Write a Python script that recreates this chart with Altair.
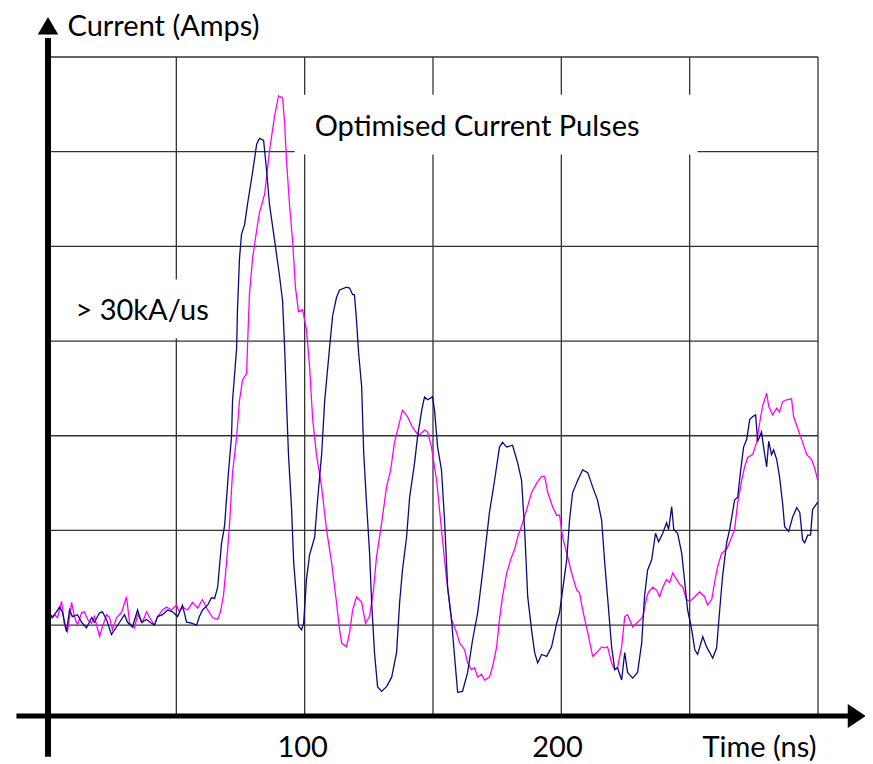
import altair as alt
import pandas as pd

# ---- data (time in ns, current in grid divisions) ----
navy_t = [0.6, 1.8, 4.5, 5.7, 7.2, 8.4, 9.5, 11.5, 13.1, 15.0, 17.0, 18.1, 20.1, 21.2, 22.8, 24.7, 26.7, 27.9,
          29.8, 31.0, 32.9, 34.9, 36.4, 38.4, 40.3, 41.5, 42.7, 44.6, 46.6, 48.5, 50.5, 52.4, 54.0, 55.9, 57.9,
          59.0, 60.2, 62.2, 63.7, 64.9, 66.1, 67.6, 68.8, 70.3, 71.5, 71.9, 73.5, 73.8, 74.6, 75.4, 76.6, 77.7,
          79.7, 81.3, 82.4, 84.0, 85.1, 86.3, 88.3, 90.2, 91.4, 92.2, 92.9, 93.7, 94.9, 95.7, 96.8, 97.6, 98.8,
          99.6, 100.7, 101.9, 103.9, 105.0, 106.6, 107.8, 109.7, 110.9, 112.4, 113.6, 116.3, 117.5, 118.7, 119.4,
          120.2, 121.0, 122.2, 123.0, 124.1, 125.3, 126.1, 127.2, 128.4, 130.0, 131.9, 133.9, 135.8, 137.0, 138.1,
          139.7, 140.9, 142.8, 144.0, 145.6, 146.7, 147.9, 149.8, 150.6, 151.8, 153.3, 154.5, 155.7, 157.2, 158.4,
          159.6, 161.5, 163.5, 165.4, 167.4, 169.3, 172.0, 174.0, 175.9, 177.1, 178.7, 181.0, 183.0, 184.5, 185.7,
          186.9, 188.4, 189.6, 190.8, 192.3, 194.3, 196.2, 198.2, 199.3, 200.5, 202.1, 203.2, 204.4, 206.4, 208.3,
          210.3, 212.2, 214.1, 215.7, 216.9, 218.0, 219.6, 220.8, 221.9, 223.5, 224.7, 225.8, 227.8, 229.7, 231.3,
          232.4, 233.6, 235.2, 236.7, 237.9, 239.5, 241.0, 241.8, 243.0, 243.8, 245.3, 246.9, 248.1, 249.2, 250.8,
          252.0, 253.1, 255.1, 256.6, 259.0, 260.5, 261.7, 262.8, 264.4, 265.6, 267.5, 268.7, 269.9, 271.0, 272.2,
          273.4, 274.5, 275.7, 276.5, 278.0, 278.8, 280.0, 280.8, 281.9, 282.7, 283.9, 285.0, 286.2, 287.0, 288.6,
          290.1, 291.7, 292.9, 294.0, 294.8, 296.0, 297.1, 297.9, 299.9]
navy_i = [1.13, 1.08, 1.19, 1.13, 0.93, 1.16, 1.09, 1.11, 1.03, 0.97, 1.08, 1.03, 1.13, 1.14, 1.06, 0.90, 0.98, 1.03,
          1.11, 1.03, 0.98, 1.16, 1.03, 1.06, 1.02, 1.00, 1.09, 1.11, 1.16, 1.14, 1.09, 1.21, 1.03, 1.02, 1.00,
          1.09, 1.16, 1.21, 1.29, 1.28, 1.40, 1.86, 2.05, 2.61, 2.99, 3.37, 3.93, 4.31, 4.87, 5.13, 5.23, 5.44,
          5.78, 6.08, 6.14, 6.12, 5.82, 5.44, 5.06, 4.69, 4.42, 3.93, 3.37, 2.80, 2.23, 1.67, 1.29, 0.99, 0.95,
          1.02, 1.48, 1.74, 1.93, 2.31, 2.80, 3.37, 3.93, 4.27, 4.46, 4.54, 4.57, 4.56, 4.49, 4.49,
          4.22, 3.88, 3.52, 2.82, 2.29, 1.76, 1.24, 0.71, 0.35, 0.30, 0.35, 0.45, 0.71, 1.24, 1.58,
          1.93, 2.35, 2.71, 2.99, 3.27, 3.41, 3.38, 3.41, 3.27, 2.88, 2.64, 2.11, 1.40, 1.06, 0.67,
          0.29, 0.30, 0.50, 0.84, 1.13, 1.55, 2.19, 2.53, 2.88, 2.93, 2.88, 2.90, 2.71, 2.53, 2.01,
          1.30, 0.95, 0.71, 0.60, 0.69, 0.67, 0.77, 1.02, 1.13, 1.37, 1.69, 2.11, 2.40, 2.53, 2.64,
          2.61, 2.46, 2.32, 2.11, 1.66, 1.30, 0.77, 0.53, 0.55, 0.42, 0.71, 0.50, 0.44, 0.50, 0.81,
          1.30, 1.58, 1.69, 1.97, 1.88, 1.97, 2.08, 2.01, 2.25, 2.01, 1.97, 1.76, 1.45, 1.16, 0.95,
          0.74, 0.69, 0.88, 0.77, 0.65, 0.76, 1.16, 1.51, 1.87, 2.01, 2.32, 2.35, 2.64, 2.88, 2.96,
          3.17, 3.20, 3.22, 2.94, 3.04, 2.88, 2.67, 2.94, 2.80, 2.85, 2.75, 2.57, 2.29, 2.04, 1.99,
          2.14, 2.24, 2.19, 1.90, 1.87, 1.95, 1.95, 2.22, 2.30]

mag_t = [0.6, 2.5, 3.7, 5.3, 6.4, 7.6, 9.2, 10.3, 11.5, 13.1, 14.2, 15.4, 17.0, 18.1, 20.1, 21.2, 22.8, 24.0, 25.1,
         26.7, 28.6, 30.6, 31.8, 33.7, 34.9, 36.8, 38.4, 39.6, 41.5, 42.7, 44.6, 46.2, 48.1, 50.1, 51.2, 52.4,
         54.4, 56.3, 58.3, 60.2, 62.2, 64.1, 66.1, 67.2, 68.4, 69.6, 70.7, 71.9, 73.5, 74.6, 75.8, 77.4, 77.7,
         78.5, 79.7, 81.3, 82.4, 84.4, 86.3, 88.3, 89.8, 91.4, 92.2, 92.9, 94.1, 95.3, 96.4, 97.6, 99.2, 100.7,
         101.9, 103.1, 104.6, 106.6, 108.5, 110.5, 112.4, 113.6, 114.4, 116.3, 117.5, 118.7, 120.2, 122.2, 123.7,
         125.3, 126.8, 128.0, 130.0, 131.9, 133.5, 135.0, 136.2, 138.1, 140.1, 142.0, 143.6, 144.8, 146.7, 147.9,
         149.4, 151.4, 153.3, 155.3, 157.2, 159.2, 160.4, 162.3, 163.5, 165.0, 166.2, 167.4, 168.9, 170.1, 172.0,
         173.2, 174.8, 175.9, 177.1, 178.7, 180.6, 181.8, 183.0, 184.9, 186.5, 188.4, 190.4, 192.3, 193.5, 194.7,
         196.6, 198.2, 199.3, 200.5, 202.1, 204.0, 206.0, 207.1, 208.3, 210.3, 212.2, 213.8, 215.7, 216.9, 218.0,
         219.6, 220.8, 221.9, 223.5, 224.7, 225.8, 227.8, 229.7, 231.7, 233.3, 234.0, 235.6, 237.1, 238.3, 239.5,
         241.0, 242.2, 243.4, 245.0, 246.1, 247.3, 248.8, 250.0, 252.0, 253.9, 255.8, 257.0, 258.6, 259.7, 260.9,
         262.5, 264.4, 266.4, 267.5, 268.7, 270.3, 271.4, 272.6, 274.5, 276.1, 277.3, 278.4, 280.0, 280.8, 282.3,
         283.9, 285.0, 286.2, 287.8, 289.7, 290.5, 292.1, 294.0, 295.6, 297.5, 298.7, 299.9]
mag_i = [1.06, 1.11, 1.08, 1.25, 1.00, 0.93, 1.24, 1.09, 1.00, 1.13, 1.14, 1.06, 1.02, 1.09, 0.88, 0.98, 1.11, 1.08, 0.95,
         1.08, 1.13, 1.30, 1.02, 0.97, 1.11, 1.03, 1.14, 1.08, 1.00, 1.09, 1.16, 1.19, 1.16, 1.21, 1.14, 1.19,
         1.16, 1.24, 1.18, 1.27, 1.16, 1.08, 1.06, 1.14, 1.32, 1.67, 2.05, 2.61, 2.99, 3.37, 3.59, 3.66, 3.93,
         4.50, 4.87, 5.17, 5.36, 5.55, 6.01, 6.38, 6.59, 6.57, 6.30, 5.92, 5.44, 5.06, 4.57, 4.31, 4.33, 4.12,
         3.74, 3.18, 2.80, 2.46, 2.01, 1.66, 1.24, 0.95, 0.81, 0.77, 0.92, 1.16, 1.30, 1.24, 1.02,
         1.09, 1.37, 1.72, 2.08, 2.46, 2.64, 2.93, 3.06, 3.27, 3.20, 3.09, 3.03, 3.01, 3.06, 3.04,
         2.88, 2.53, 2.01, 1.48, 1.06, 0.92, 0.81, 0.74, 0.60, 0.53, 0.55, 0.45, 0.48, 0.42, 0.45,
         0.56, 0.77, 1.06, 1.30, 1.55, 1.72, 1.80, 1.93, 2.08, 2.22, 2.40, 2.50, 2.57, 2.57, 2.40,
         2.25, 2.16, 2.16, 1.93, 1.76, 1.55, 1.37, 1.34, 1.16, 0.92, 0.67, 0.71, 0.77, 0.76, 0.77,
         0.60, 0.53, 0.55, 0.77, 1.09, 1.11, 0.98, 1.03, 1.08, 1.30, 1.35, 1.40, 1.37, 1.30, 1.40,
         1.48, 1.45, 1.55, 1.48, 1.43, 1.40, 1.27, 1.25, 1.30, 1.35, 1.30, 1.21, 1.27, 1.45, 1.62,
         1.76, 1.80, 1.93, 2.01, 2.29, 2.53, 2.67, 2.77, 2.80, 2.93, 3.14, 3.31, 3.45, 3.31, 3.22,
         3.29, 3.25, 3.36, 3.38, 3.39, 3.20, 3.08, 2.93, 2.80, 2.75, 2.66, 2.53]

grid_t = [50, 100, 150, 200, 250, 300]
grid_i = [1, 2, 3, 4, 5, 6, 7]
tick_labels = ["100", "200"]
tick_pos = [99.2, 198.5]

NAVY = "#0a0a80"
MAGENTA = "#ff00ff"
FONT = "Lato"
FS = 29

xs = alt.Scale(domain=[0, 300], nice=False, zero=False)
ys = alt.Scale(domain=[0.04, 7], nice=False, zero=False)

lines_df = pd.concat([
    pd.DataFrame({"t": mag_t, "i": mag_i, "s": "magenta"}),
    pd.DataFrame({"t": navy_t, "i": navy_i, "s": "navy"}),
])

vgrid = alt.Chart(pd.DataFrame({"t": grid_t})).mark_rule(color="#333333", strokeWidth=1.3).encode(
    x=alt.X("t:Q", scale=xs, axis=None))
hgrid = alt.Chart(pd.DataFrame({"i": grid_i})).mark_rule(color="#333333", strokeWidth=1.3).encode(
    y=alt.Y("i:Q", scale=ys, axis=None))

boxes_df = pd.DataFrame({"t0": [96.1, 2.5], "t1": [253.1, 72.7], "i0": [5.97, 4.03], "i1": [6.60, 4.65]})
boxes = alt.Chart(boxes_df).mark_rect(color="white").encode(
    x=alt.X("t0:Q", scale=xs, axis=None), x2="t1:Q",
    y=alt.Y("i0:Q", scale=ys, axis=None), y2="i1:Q")

lines = alt.Chart(lines_df).mark_line(strokeWidth=1.3).encode(
    x=alt.X("t:Q", scale=xs, axis=None),
    y=alt.Y("i:Q", scale=ys, axis=None),
    color=alt.Color("s:N", scale=alt.Scale(domain=["magenta", "navy"], range=[MAGENTA, NAVY]), legend=None),
    detail="s:N",
    order="t:Q",
)

xaxis = alt.Chart(pd.DataFrame({"a": [-12.3], "b": [312.0], "i": [0.04]})).mark_rule(
    color="black", strokeWidth=5).encode(
    x=alt.X("a:Q", scale=xs, axis=None), x2="b:Q", y=alt.Y("i:Q", scale=ys, axis=None))
yaxis = alt.Chart(pd.DataFrame({"t": [0], "a": [-0.39], "b": [7.2]})).mark_rule(
    color="black", strokeWidth=6).encode(
    x=alt.X("t:Q", scale=xs, axis=None), y=alt.Y("a:Q", scale=ys, axis=None), y2="b:Q")

arrow_r = alt.Chart(pd.DataFrame({"t": [315.1], "i": [0.04]})).mark_point(
    shape="M-0.75,-1L0.75,0L-0.75,1Z", size=576, filled=True, color="black", opacity=1).encode(
    x=alt.X("t:Q", scale=xs, axis=None), y=alt.Y("i:Q", scale=ys, axis=None))
arrow_u = alt.Chart(pd.DataFrame({"t": [0], "i": [7.33]})).mark_point(
    shape="M-1,0.85L0,-0.85L1,0.85Z", size=420, filled=True, color="black", opacity=1).encode(
    x=alt.X("t:Q", scale=xs, axis=None), y=alt.Y("i:Q", scale=ys, axis=None))

left_text_df = pd.DataFrame({
    "t": [7.6, 103.9, 10.7, 255.0],
    "i": [7.312, 6.26, 4.32, -0.30],
    "label": ["Current (Amps)", "Optimised Current Pulses", "> 30kA/us", "Time (ns)"],
})
left_text = alt.Chart(left_text_df).mark_text(
    align="left", baseline="middle", font=FONT, fontSize=FS, color="black").encode(
    x=alt.X("t:Q", scale=xs, axis=None), y=alt.Y("i:Q", scale=ys, axis=None), text="label:N")

ticks_df = pd.DataFrame({"t": tick_pos, "i": [-0.30, -0.30], "label": tick_labels})
ticks = alt.Chart(ticks_df).mark_text(
    align="center", baseline="middle", font=FONT, fontSize=FS, color="black").encode(
    x=alt.X("t:Q", scale=xs, axis=None), y=alt.Y("i:Q", scale=ys, axis=None), text="label:N")

chart = alt.layer(vgrid, hgrid, boxes, lines, xaxis, yaxis, arrow_r, arrow_u, left_text, ticks).properties(
    width=770, height=659,
    autosize=alt.AutoSizeParams(type="none"),
    padding={"left": 40, "top": 49, "right": 47, "bottom": 48},
    background="white",
).configure_view(stroke=None)

chart.save("out.html", embed_options={"renderer": "svg", "actions": False})
